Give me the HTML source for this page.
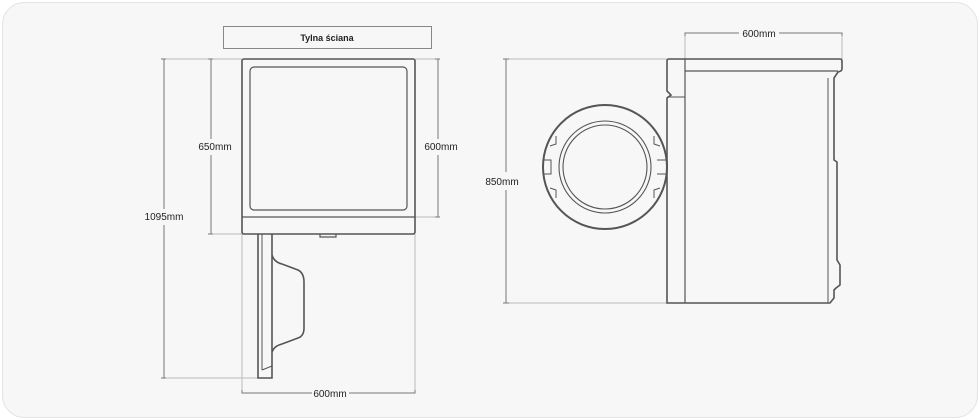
<!DOCTYPE html>
<html><head><style>
html,body{margin:0;padding:0;background:#fff;}
svg{display:block;}
text{font-family:"Liberation Sans",sans-serif;font-size:10px;fill:#222;}
</style></head><body>
<svg width="980" height="420" viewBox="0 0 980 420">
<rect x="2.5" y="2.5" width="975" height="415" rx="22" fill="#f7f7f7" stroke="#e4e4e4"/>
<!-- left view -->
<rect x="223.5" y="26.5" width="208" height="22" fill="none" stroke="#888"/>
<text x="327" y="41" text-anchor="middle" font-weight="bold" style="font-size:9px">Tylna ściana</text>
<g fill="none" stroke="#bbb" stroke-width="1">
<line x1="164" y1="59" x2="242" y2="59"/><line x1="164" y1="378" x2="262" y2="378"/>
<line x1="211" y1="234" x2="242" y2="234"/>
<line x1="415" y1="59" x2="438" y2="59"/><line x1="415" y1="217" x2="438" y2="217"/>
<line x1="242" y1="234" x2="242" y2="393"/><line x1="415" y1="234" x2="415" y2="393"/>
</g>
<g fill="none" stroke="#777" stroke-width="1">
<path d="M164 59V209M164 225V378"/>
<path d="M211 59V139M211 155V234"/>
<path d="M438 59V139M438 155V217"/>
<path d="M242 390V393H312M349 393H415V390"/>
<path d="M161 59H166M161 378H166M208 59H213M208 234H213M435 59H440M435 217H440"/>
</g>
<text x="164" y="220" text-anchor="middle">1095mm</text>
<text x="215" y="150" text-anchor="middle">650mm</text>
<text x="441" y="150" text-anchor="middle">600mm</text>
<text x="330" y="397" text-anchor="middle">600mm</text>
<g fill="none" stroke="#555" stroke-width="1.6">
<rect x="242" y="59" width="173" height="175" rx="2"/>
<rect x="250" y="67" width="157" height="143" rx="4" stroke-width="1.2"/>
<line x1="242" y1="217" x2="415" y2="217" stroke-width="1.2"/>
<path d="M320 234v3h16v-3" stroke-width="1.2"/>
<path d="M258 234V378H272V234"/>
<path d="M262 234V370" stroke-width="1"/>
<path d="M272 255Q274 262 282 264L298 270Q304 273 304 282V328Q304 336 298 338L282 344Q274 346 272 352"/>
<path d="M262 370L272 366" stroke-width="1"/>
</g>
<!-- right view -->
<g fill="none" stroke="#bbb" stroke-width="1">
<line x1="506" y1="59" x2="667" y2="59"/><line x1="506" y1="303" x2="667" y2="303"/>
<line x1="685" y1="33" x2="685" y2="59"/><line x1="842" y1="33" x2="842" y2="59"/>
</g>
<g fill="none" stroke="#777" stroke-width="1">
<path d="M506 59V172M506 190V303M503 59H509M503 303H509"/>
<path d="M685 36V33H739M779 33H842V36"/>
</g>
<text x="502" y="185" text-anchor="middle">850mm</text>
<text x="759" y="37" text-anchor="middle">600mm</text>
<g fill="none" stroke="#555" stroke-width="1.6">
<path d="M669 59H840Q842 59 842 61V69Q842 71 838 72L834 78V160L837 162V260L840 265V285L836 288L834 290V298L830 303H667V98L671 95L667 91V61Q667 59 669 59Z"/>
<path d="M685 59V303M685 71H838" stroke-width="1.2"/>
<path d="M667 97H685" stroke-width="1"/>
<path d="M828 78V303" stroke-width="1"/>
<circle cx="605" cy="167" r="62" stroke-width="2"/>
<circle cx="605" cy="167" r="46" stroke-width="1.1"/>
<circle cx="605" cy="167" r="42" stroke-width="1.1"/>
<path d="M543 160h8v14h-8" stroke-width="1"/>
<path d="M657 160h10M657 174h10" stroke-width="1"/>
<path d="M550 146l6 -2V136M550 188l6 2V198M660 146l-6 -2V136M660 188l-6 2V198" stroke-width="1"/>
</g>
</svg>
</body></html>
